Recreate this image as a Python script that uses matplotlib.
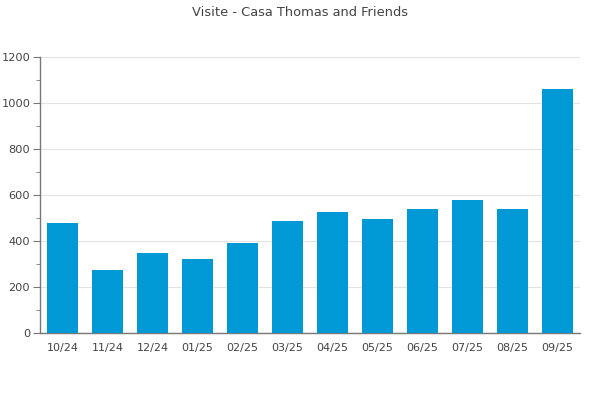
import matplotlib
matplotlib.use("Agg")
import matplotlib.pyplot as plt
from matplotlib.ticker import MultipleLocator

# monthly visits
months = ["10/24", "11/24", "12/24", "01/25", "02/25", "03/25",
          "04/25", "05/25", "06/25", "07/25", "08/25", "09/25"]
visits = [477, 272, 346, 320, 390, 488, 525, 494, 538, 577, 538, 1059]

fig = plt.figure(figsize=(6, 4), dpi=100)
ax = fig.add_axes([40/600, 1 - 333/400, 540/600, 276/400])

ax.bar(range(len(months)), visits, width=0.69, color="#0099d5", zorder=3)

ax.set_xlim(-0.5, len(months) - 0.5)
ax.set_ylim(0, 1200)
ax.yaxis.set_major_locator(MultipleLocator(200))
ax.yaxis.set_minor_locator(MultipleLocator(100))
ax.set_xticks(range(len(months)))
ax.set_xticklabels(months)

ax.grid(axis="y", color="#e3e3e3", linewidth=0.8, zorder=0)
for s in ["top", "right"]:
    ax.spines[s].set_visible(False)
for s in ["left", "bottom"]:
    ax.spines[s].set_color("#777777")
    ax.spines[s].set_linewidth(1)

ax.tick_params(axis="x", length=0, pad=7, labelsize=8, labelcolor="#444444")
ax.tick_params(axis="y", which="major", length=5, color="#777777",
               labelsize=8.2, labelcolor="#444444", pad=2)
ax.tick_params(axis="y", which="minor", length=3, color="#777777")

fig.text(0.5, 1 - 12/400, "Visite - Casa Thomas and Friends",
         ha="center", va="center", fontsize=9.4, color="#444444")

fig.savefig("out.png", dpi=100)
